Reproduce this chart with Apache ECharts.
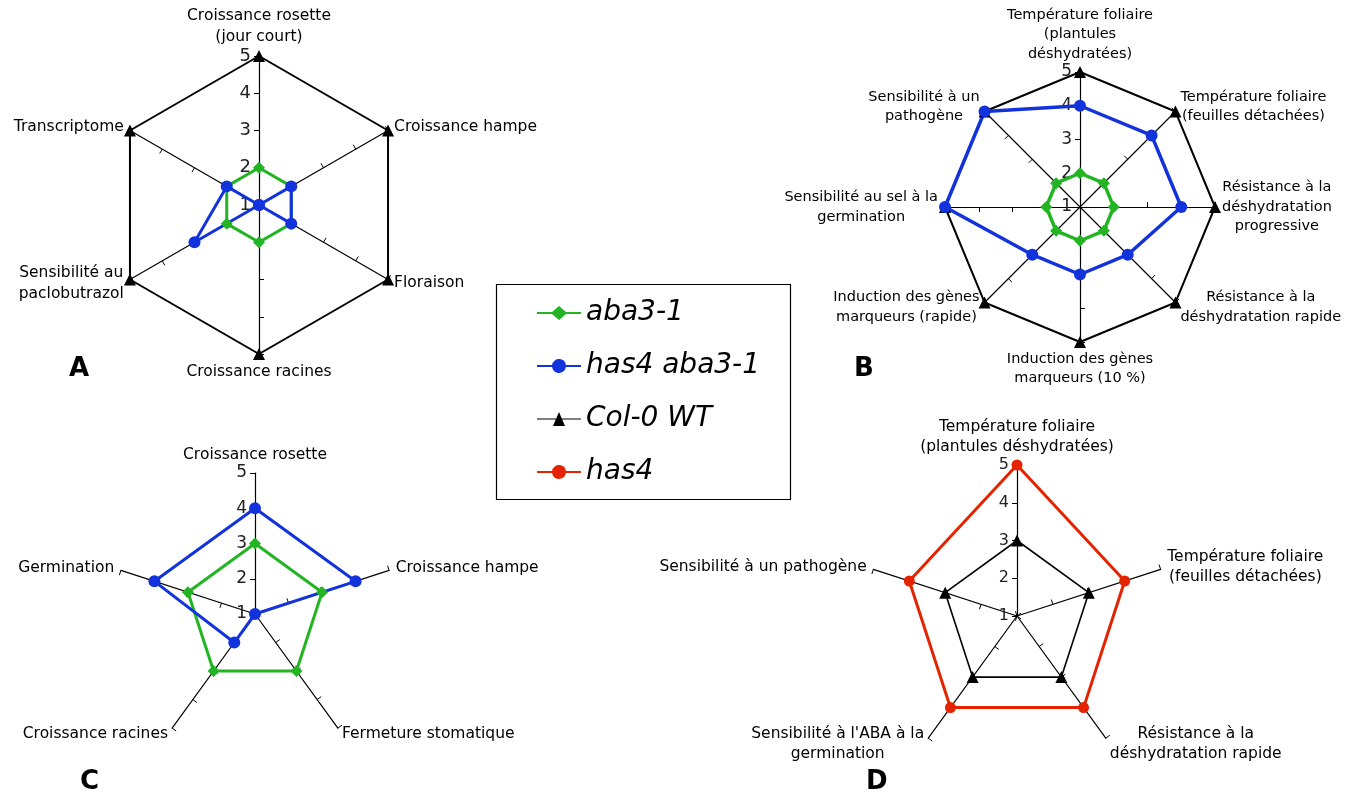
<!DOCTYPE html>
<html>
<head>
<meta charset="utf-8">
<script src="https://cdn.jsdelivr.net/npm/echarts@6/dist/echarts.min.js"></script>
<style>
  html, body { margin: 0; padding: 0; background: #fff; }
  #main { width: 1354px; height: 794px; }
</style>
</head>
<body>
<div id="main"></div>
<script>
// every list is read clockwise starting from the top axis, scale 1..5
var axesA = ['Croissance rosette\n(jour court)', 'Croissance hampe', 'Floraison', 'Croissance racines', 'Sensibilité au\npaclobutrazol', 'Transcriptome'];
var aba3A = [2, 2, 2, 2, 2, 2];
var has4aba3A = [1, 2, 2, 1, 3, 2];
var colA = [5, 5, 5, 5, 5, 5];

var axesB = ['Température foliaire\n(plantules\ndéshydratées)', 'Température foliaire\n(feuilles détachées)', 'Résistance à la\ndéshydratation\nprogressive', 'Résistance à la\ndéshydratation rapide', 'Induction des gènes\nmarqueurs (10 %)', 'Induction des gènes\nmarqueurs (rapide)', 'Sensibilité au sel à la\ngermination', 'Sensibilité à un\npathogène'];
var aba3B = [2, 2, 2, 2, 2, 2, 2, 2];
var has4aba3B = [4, 4, 4, 3, 3, 3, 5, 5];
var colB = [5, 5, 5, 5, 5, 5, 5, 5];

var axesC = ['Croissance rosette', 'Croissance hampe', 'Fermeture stomatique', 'Croissance racines', 'Germination'];
var aba3C = [3, 3, 3, 3, 3];
var has4aba3C = [4, 4, 1, 2, 4];

var axesD = ['Température foliaire\n(plantules déshydratées)', 'Température foliaire\n(feuilles détachées)', 'Résistance à la\ndéshydratation rapide', "Sensibilité à l'ABA à la\ngermination", 'Sensibilité à un pathogène'];
var has4D = [5, 4, 4, 4, 4];
var colD = [3, 3, 3, 3, 3];

var genotypes = ['aba3-1', 'has4 aba3-1', 'Col-0 WT', 'has4'];

var colors = {
    'aba3-1': '#22b422',
    'has4 aba3-1': '#1232dc',
    'Col-0 WT': '#000000',
    'has4': '#e42400'
};
var symbols = { 'aba3-1': 'diamond', 'has4 aba3-1': 'circle', 'Col-0 WT': 'triangle', 'has4': 'circle' };

// legend icons: line + marker, drawn in a 44x14 box
var legendIcons = {
    'aba3-1': 'path://M0,6H15L22,0L29,6H44V8H29L22,14L15,8H0Z',
    'has4 aba3-1': 'path://M0,6H15.07A7,7 0 0 1 28.93,6H44V8H28.93A7,7 0 0 1 15.07,8H0Z',
    'Col-0 WT': 'path://M0,6.5H19.21L22,0L24.79,6.5H44V7.5H25.21L28,14H16L18.79,7.5H0Z',
    'has4': 'path://M0,6H15.07A7,7 0 0 1 28.93,6H44V8H28.93A7,7 0 0 1 15.07,8H0Z'
};

// echarts lays the indicators out counterclockwise, so keep the top one and flip the rest
function ccw(arr) {
    return [arr[0]].concat(arr.slice(1).reverse());
}

function makeRadar(center, radius, names, nameSize, lineH, labelSize) {
    return {
        center: center,
        radius: radius,
        startAngle: 90,
        splitNumber: 4,
        nameGap: 7,
        indicator: ccw(names).map(function (n, i) {
            var ind = { name: n, min: 1, max: 5 };
            if (i === 0) ind.axisLabel = { show: true };
            return ind;
        }),
        axisName: {
            color: '#000', fontFamily: 'DejaVu Sans', fontSize: nameSize, lineHeight: lineH,
            // centre each line inside the label block
            formatter: function (name) {
                return name.split('\n').map(function (l) { return '{c|' + l + '}'; }).join('\n');
            },
            rich: { c: { align: 'center', color: '#000', fontFamily: 'DejaVu Sans', fontSize: nameSize, lineHeight: lineH } }
        },
        axisLine: { lineStyle: { color: '#000', width: 1.2 } },
        axisTick: { show: true, length: 5, lineStyle: { color: '#000', width: 1 } },
        axisLabel: { show: false, color: '#222', fontFamily: 'DejaVu Sans', fontSize: labelSize, margin: 8 },
        splitLine: { show: false },
        splitArea: { show: false }
    };
}

function makeSeries(radarIndex, name, values, size, width) {
    return {
        type: 'radar',
        radarIndex: radarIndex,
        name: name,
        symbol: symbols[name],
        symbolSize: size,
        lineStyle: { color: colors[name], width: width },
        itemStyle: { color: colors[name] },
        data: [{ name: name, value: ccw(values) }]
    };
}

var chartDom = document.getElementById('main');
var myChart = echarts.init(chartDom);

var option = {
    backgroundColor: '#fff',
    animation: false,
    radar: [
        makeRadar([259, 205], 149, axesA, 15.5, 21, 18),
        makeRadar([1080, 207], 135, axesB, 14.5, 19.5, 17),
        makeRadar([255, 614], 141, axesC, 15.5, 20, 17),
        makeRadar([1017, 616], 151, axesD, 15.5, 20, 16)
    ],
    legend: {
        orient: 'vertical',
        left: 537,
        top: 299,
        padding: 0,
        itemWidth: 44,
        itemHeight: 14,
        itemGap: 25,
        selectedMode: false,
        textStyle: { fontFamily: 'DejaVu Sans', fontStyle: 'italic', fontSize: 28, color: '#000' },
        data: genotypes.map(function (g) {
            return { name: g, icon: legendIcons[g] };
        })
    },
    graphic: [
        { type: 'rect', left: 494, top: 282, shape: { width: 294, height: 215 }, style: { fill: 'none', stroke: '#000', lineWidth: 1.2 } },
        { type: 'text', left: 69, top: 356, style: { text: 'A', font: 'bold 26px "DejaVu Sans"', fill: '#000' } },
        { type: 'text', left: 854, top: 356, style: { text: 'B', font: 'bold 26px "DejaVu Sans"', fill: '#000' } },
        { type: 'text', left: 80, top: 769, style: { text: 'C', font: 'bold 26px "DejaVu Sans"', fill: '#000' } },
        { type: 'text', left: 866, top: 769, style: { text: 'D', font: 'bold 26px "DejaVu Sans"', fill: '#000' } }
    ],
    series: [
        makeSeries(0, 'Col-0 WT', colA, 12, 2),
        makeSeries(0, 'aba3-1', aba3A, 12, 3),
        makeSeries(0, 'has4 aba3-1', has4aba3A, 12, 3),
        makeSeries(1, 'Col-0 WT', colB, 12, 2),
        makeSeries(1, 'aba3-1', aba3B, 12, 3.5),
        makeSeries(1, 'has4 aba3-1', has4aba3B, 12, 3.5),
        makeSeries(2, 'aba3-1', aba3C, 12, 3),
        makeSeries(2, 'has4 aba3-1', has4aba3C, 12, 3),
        makeSeries(3, 'has4', has4D, 11, 3),
        makeSeries(3, 'Col-0 WT', colD, 12, 1.6)
    ]
};

option && myChart.setOption(option);
</script>
</body>
</html>
